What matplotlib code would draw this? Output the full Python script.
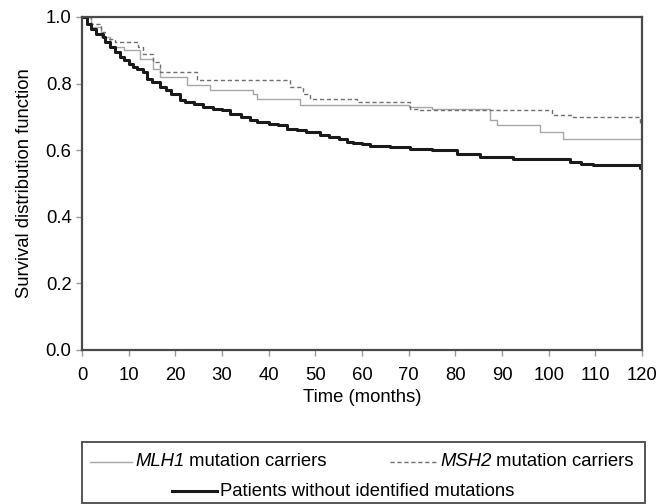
import matplotlib
matplotlib.use('Agg')
import matplotlib.pyplot as plt
from matplotlib.lines import Line2D
from matplotlib.patches import Rectangle

plt.rcParams['font.family'] = ['Liberation Sans', 'DejaVu Sans']

# survival curves (months, survival)
msh2_t = [0, 2, 4, 5, 7, 12, 13.1, 15.2, 16.7, 24.6, 44.6, 47.4, 48.9, 58.9, 70.3, 72, 100.7, 105.2, 119.5, 120]
msh2_s = [1.0, 0.98, 0.955, 0.935, 0.925, 0.91, 0.89, 0.865, 0.835, 0.81, 0.79, 0.77, 0.755, 0.745, 0.725, 0.72, 0.705, 0.70, 0.68, 0.68]

mlh1_t = [0, 2, 4, 6, 9, 12.4, 15.2, 16.7, 22.5, 27.4, 36.6, 37.5, 46.7, 60, 70, 75, 87.4, 89, 98.1, 103, 120]
mlh1_s = [1.0, 0.97, 0.94, 0.91, 0.90, 0.875, 0.845, 0.82, 0.795, 0.78, 0.77, 0.755, 0.735, 0.735, 0.73, 0.725, 0.69, 0.675, 0.655, 0.635, 0.635]

none_t = [0, 1, 2, 3, 4.5, 5, 6, 7, 8.1, 9, 10, 11, 11.8, 13, 13.9, 15, 16.7, 18, 19, 21, 22, 24, 25.9, 28, 30, 31.7,
          34, 36, 37.5, 40, 42, 43.9, 46, 48, 51, 53, 55, 56.8, 58, 60, 61.7, 66, 70.3, 75, 80.4, 85.3, 92.4, 104.6,
          107, 109.5, 119.5, 120]
none_s = [1.0, 0.98, 0.965, 0.95, 0.94, 0.925, 0.91, 0.895, 0.88, 0.87, 0.86, 0.85, 0.845, 0.835, 0.815, 0.805,
          0.79, 0.78, 0.77, 0.75, 0.745, 0.74, 0.73, 0.725, 0.72, 0.71, 0.70, 0.69, 0.685, 0.68, 0.675, 0.665,
          0.66, 0.655, 0.645, 0.64, 0.635, 0.625, 0.622, 0.618, 0.612, 0.61, 0.603, 0.60, 0.59, 0.58, 0.575,
          0.565, 0.56, 0.555, 0.545, 0.545]

xticks = list(range(0, 121, 10))
yticks = [0.0, 0.2, 0.4, 0.6, 0.8, 1.0]
fs = 13.3

fig = plt.figure(figsize=(6.64, 5.04), dpi=100)
ax = fig.add_axes([0.1235, 0.3056, 0.8434, 0.6607])

ax.plot(mlh1_t, mlh1_s, drawstyle='steps-post', color='#a8a8a8', lw=1.0)
ax.plot(msh2_t, msh2_s, drawstyle='steps-post', color='#707070', lw=1.0, ls=(0, (3, 2)))
ax.plot(none_t, none_s, drawstyle='steps-post', color='#1a1a1a', lw=2.2)

ax.set_xlim(0, 120)
ax.set_ylim(0, 1.0)
ax.set_xticks(xticks)
ax.set_yticks(yticks)
ax.set_yticklabels(['%.1f' % v for v in yticks])
ax.tick_params(labelsize=fs, length=4, color='#999999', width=1)
ax.tick_params(axis='x', pad=8)
for s in ax.spines.values():
    s.set_color('#4a4a4a')
    s.set_linewidth(1.6)
ax.set_xlabel('Time (months)', fontsize=fs, labelpad=4)
ax.set_ylabel('Survival distribution function', fontsize=fs, labelpad=9)

# legend box drawn below the axes (pixel positions -> figure fraction)
W, H = 664, 504
def fx(px):
    return px / W
def fy(py):
    return 1 - py / H

fig.add_artist(Rectangle((fx(82), fy(503)), fx(645) - fx(82), fy(442) - fy(503),
                         transform=fig.transFigure, fill=False, edgecolor='#555555', lw=1.4))

def legend_entry(x0, x1, y, name, rest, **line_kw):
    fig.add_artist(Line2D([fx(x0), fx(x1)], [fy(y), fy(y)], transform=fig.transFigure, **line_kw))
    tx = fx(x1 + 3)
    if name:
        # gene name in italics, rest of the label right after it
        t1 = fig.text(tx, fy(y), name, fontsize=fs, style='italic', va='center')
        ax.annotate(rest, xy=(1, 0.5), xycoords=t1, fontsize=fs, va='center', ha='left')
    else:
        fig.text(tx, fy(y), rest, fontsize=fs, va='center')

legend_entry(90, 132, 462, 'MLH1', ' mutation carriers', color='#a8a8a8', lw=1.0)
legend_entry(390, 437, 462, 'MSH2', ' mutation carriers', color='#707070', lw=1.0, ls=(0, (3, 2)))
legend_entry(172, 217, 491, None, 'Patients without identified mutations', color='#1a1a1a', lw=2.2)

fig.savefig('out.png', dpi=100)
